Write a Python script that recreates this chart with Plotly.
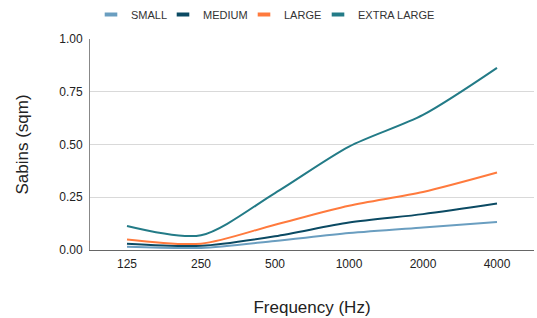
import plotly.graph_objects as go

freqs = ["125", "250", "500", "1000", "2000", "4000"]
small = [0.015, 0.01, 0.043, 0.08, 0.107, 0.133]
medium = [0.03, 0.02, 0.065, 0.13, 0.17, 0.22]
large = [0.05, 0.03, 0.12, 0.21, 0.275, 0.367]
xlarge = [0.114, 0.07, 0.27, 0.49, 0.64, 0.863]
series_names = ["SMALL", "MEDIUM", "LARGE", "EXTRA LARGE"]
colors = ["#6a9ec0", "#0b4a63", "#ff7a3d", "#237b87"]
legend_widths = [27, 36, 29, 81]
y_ticks = [0, 0.25, 0.5, 0.75, 1.0]

fig = go.Figure()
for name, vals, c in zip(series_names, [small, medium, large, xlarge], colors):
    fig.add_trace(go.Scatter(x=freqs, y=vals, mode="lines", name=name,
                             line=dict(color=c, width=2, shape="spline", smoothing=0.8),
                             showlegend=False))
for name, c, lw in zip(series_names, colors, legend_widths):
    fig.add_trace(go.Scatter(x=[None], y=[None], mode="markers", name=name,
                             legendwidth=lw,
                             marker=dict(symbol="line-ew", size=9, color=c,
                                         line=dict(color=c, width=4))))

fig.update_layout(
    width=537, height=318,
    margin=dict(l=90, r=3, t=39, b=68),
    plot_bgcolor="white", paper_bgcolor="white",
    font=dict(family="Liberation Sans, Arial, sans-serif", size=12, color="#222"),
    legend=dict(orientation="h", xref="container", x=91 / 537, xanchor="left",
                yref="container", y=1.0, yanchor="top",
                font=dict(size=11, color="#333"), itemwidth=30,
                tracegroupgap=0),
    xaxis=dict(type="category", range=[-0.5, 5.5], showgrid=False,
               showline=True, linecolor="#666", linewidth=1, ticks="",
               ticklabelstandoff=3,
               title=dict(text="Frequency (Hz)", font=dict(size=17, color="#222"), standoff=30),
               tickfont=dict(size=12, color="#222")),
    yaxis=dict(range=[0, 1], tickvals=y_ticks, tickformat=".2f",
               showgrid=True, gridcolor="#d9d9d9", gridwidth=1,
               showline=True, linecolor="#888", linewidth=1, zeroline=False,
               ticks="", ticklabelstandoff=4,
               title=dict(text="Sabins (sqm)", font=dict(size=17, color="#222"), standoff=26),
               tickfont=dict(size=12, color="#222")),
)

fig.write_html("out.html", config={"displayModeBar": False},
               post_script="document.body.style.margin='0';window.dispatchEvent(new Event('resize'));")
